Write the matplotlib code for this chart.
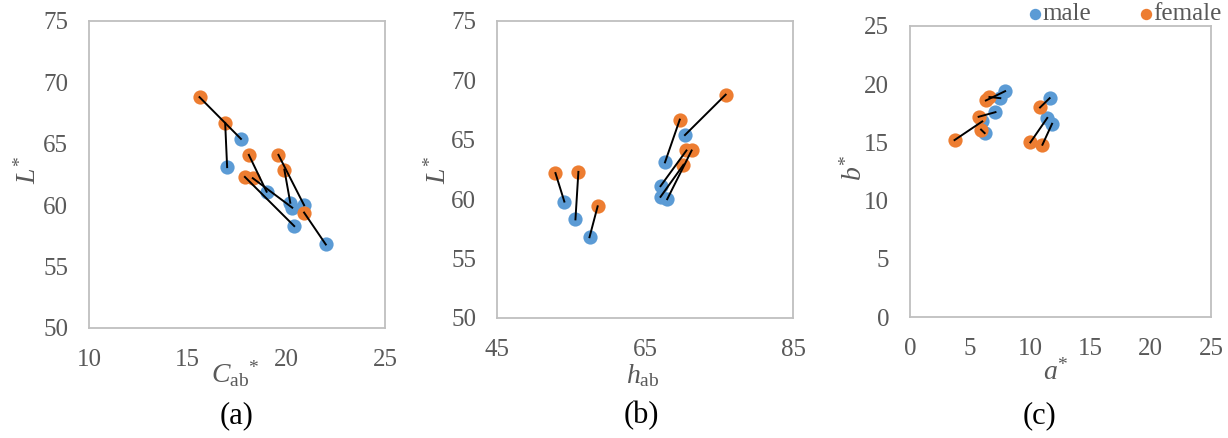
import matplotlib
matplotlib.use("Agg")
import matplotlib.pyplot as plt

plt.rcParams["font.family"] = "Liberation Serif"
plt.rcParams["mathtext.fontset"] = "custom"
plt.rcParams["mathtext.rm"] = "Liberation Serif"
plt.rcParams["mathtext.it"] = "Liberation Serif:italic"

# paired measurements, one entry per subject (female / male)
female_C = [15.6, 16.9, 18.1, 17.9, 18.3, 19.6, 19.9, 20.9]
female_L = [68.8, 66.7, 64.1, 62.3, 62.2, 64.1, 62.9, 59.4]
male_C = [17.7, 17.0, 19.0, 20.4, 20.3, 20.9, 20.2, 22.0]
male_L = [65.4, 63.1, 61.1, 58.3, 59.8, 60.0, 60.2, 56.8]

female_h = [75.9, 69.7, 70.6, 56.0, 52.9, 71.3, 70.2, 58.6]
male_h = [70.4, 67.7, 67.1, 55.6, 54.1, 68.0, 67.1, 57.5]

female_a = [3.7, 5.9, 5.7, 10.0, 11.0, 6.3, 6.6, 10.8]
female_b = [15.2, 16.1, 17.2, 15.0, 14.8, 18.6, 18.9, 18.0]
male_a = [6.0, 6.2, 7.1, 11.4, 11.8, 7.9, 7.5, 11.6]
male_b = [16.8, 15.8, 17.6, 17.1, 16.6, 19.4, 18.8, 18.8]

BLUE = "#5B9BD5"
ORANGE = "#ED7D31"
TEXT = "#595959"

W, H = 1228, 438
fig = plt.figure(figsize=(W / 100, H / 100), dpi=100)


def box(left, top, right, bottom):
    return [left / W, 1 - bottom / H, (right - left) / W, (bottom - top) / H]


def panel(rect, fx, fy, mx, my, xlim, ylim, xticks, yticks):
    ax = fig.add_axes(rect)
    ax.scatter(mx, my, s=105, color=BLUE, zorder=2, linewidths=0, label="male")
    ax.scatter(fx, fy, s=105, color=ORANGE, zorder=2, linewidths=0, label="female")
    for x0, y0, x1, y1 in zip(fx, fy, mx, my):
        ax.plot([x0, x1], [y0, y1], color="black", lw=1.4, zorder=3)
    ax.set_xlim(xlim)
    ax.set_ylim(ylim)
    ax.set_xticks(xticks)
    ax.set_yticks(yticks)
    ax.tick_params(length=0, labelsize=18, labelcolor=TEXT, pad=15)
    for sp in ax.spines.values():
        sp.set_color("#BFBFBF")
        sp.set_linewidth(1.3)
    return ax


ax1 = panel(box(89, 21, 385, 328), female_C, female_L, male_C, male_L,
            (10, 25), (50, 75), [10, 15, 20, 25], range(50, 80, 5))
ax2 = panel(box(497, 21, 793, 318), female_h, female_L, male_h, male_L,
            (45, 85), (50, 75), [45, 65, 85], range(50, 80, 5))
ax3 = panel(box(910, 26, 1211, 317), female_a, female_b, male_a, male_b,
            (0, 25), (0, 25), range(0, 30, 5), range(0, 30, 5))


def label(x, y, s, rot=0, size=20, color=TEXT):
    fig.text(x / W, 1 - y / H, s, ha="center", va="center", rotation=rot,
             fontsize=size, color=color)


label(235, 374, r"$C_{\rm ab}{}^{*}$")
label(28, 170, r"$L^{*}$", rot=90)
label(643, 376, r"$h_{\rm ab}$")
label(438, 170, r"$L^{*}$", rot=90)
label(1056, 372, r"$a^{*}$")
label(854, 168, r"$b^{*}$", rot=90)

label(237, 416, "(a)", size=22, color="black")
label(641, 416, "(b)", size=22, color="black")
label(1039, 416, "(c)", size=22, color="black")

ax3.legend(loc="lower right", bbox_to_anchor=(1.07, 0.968), ncol=2, frameon=False,
           fontsize=18, labelcolor=TEXT, markerscale=0.8, handletextpad=-0.3,
           columnspacing=1.6, borderaxespad=0, handlelength=1.2)

fig.savefig("out.png", dpi=100)
